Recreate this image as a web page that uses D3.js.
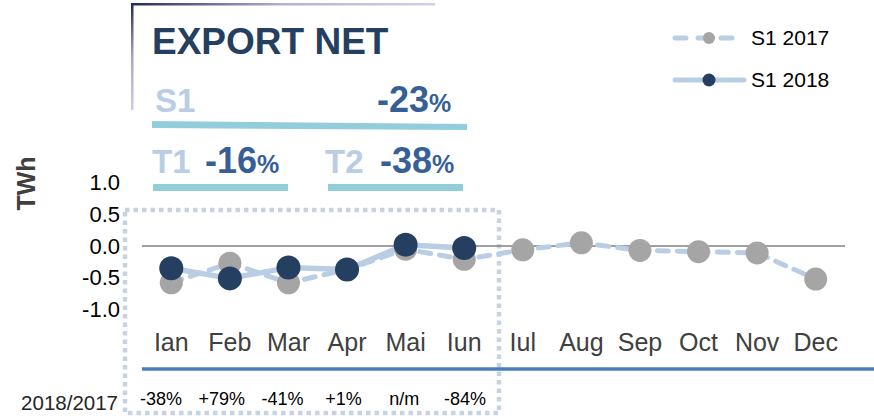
<!DOCTYPE html>
<html>
<head>
<meta charset="utf-8">
<script src="https://cdn.jsdelivr.net/npm/d3@7"></script>
<style>
  html, body { margin: 0; padding: 0; background: #fff; }
  svg { display: block; font-family: "Liberation Sans", Arial, sans-serif; }
</style>
</head>
<body>
<svg id="chart" width="874" height="419"></svg>
<script>
const months = ["Ian","Feb","Mar","Apr","Mai","Iun","Iul","Aug","Sep","Oct","Nov","Dec"];
const s2017 = [-0.58,-0.27,-0.58,-0.37,-0.05,-0.21,-0.06,0.05,-0.07,-0.09,-0.11,-0.52];
const s2018 = [-0.35,-0.51,-0.34,-0.37,0.02,-0.03];
const yTicks = [-1.0,-0.5,0.0,0.5,1.0];
const changeLabels = ["-38%","+79%","-41%","+1%","n/m","-84%"];
const seriesNames = ["S1 2017","S1 2018"];
const summaryLabels = ["S1","T1","T2"];
const summaryValues = ["-23","-16","-38"];
const chartTitle = "EXPORT NET";

const svg = d3.select("#chart");

const x = d3.scaleBand().domain(months).range([142, 845]);
const xc = d3.scaleBand().domain(months.slice(0, 6)).range([130.5, 495.5]);
const y = d3.scaleLinear().domain([-1, 1]).range([309.5, 182.5]);
const cx = m => x(m) + x.bandwidth() / 2;

const lightLine = "#b9cde5";
const grayDot = "#a5a5a5";
const darkDot = "#243f60";

// gradient defs for title frame
const defs = svg.append("defs");
const gH = defs.append("linearGradient").attr("id","gH").attr("x1","0").attr("x2","1").attr("y1","0").attr("y2","0");
gH.append("stop").attr("offset","0").attr("stop-color","#1f2a55");
gH.append("stop").attr("offset","0.5").attr("stop-color","#b5b0d4");
gH.append("stop").attr("offset","1").attr("stop-color","#d4d0e8");
const gV = defs.append("linearGradient").attr("id","gV").attr("x1","0").attr("x2","0").attr("y1","0").attr("y2","1");
gV.append("stop").attr("offset","0").attr("stop-color","#1f2a55");
gV.append("stop").attr("offset","0.5").attr("stop-color","#a9a4cc");
gV.append("stop").attr("offset","1").attr("stop-color","#cfcbe5");

svg.append("rect").attr("x",131).attr("y",3).attr("width",304).attr("height",2.5).attr("fill","url(#gH)");
svg.append("rect").attr("x",131).attr("y",3).attr("width",2.5).attr("height",107).attr("fill","url(#gV)");

// title
svg.append("text").attr("x",152).attr("y",54).attr("font-size",37).attr("font-weight","bold")
  .attr("fill","#243f60").text(chartTitle);

const pctColor = "#365f96";
const labColor = "#b9cde5";
const barColor = "#92cddc";

function summaryItem(lab, val, labX, valX, baseY) {
  svg.append("text").attr("x",labX).attr("y",baseY).attr("font-size",33).attr("font-weight","bold")
    .attr("fill",labColor).text(lab);
  const t = svg.append("text").attr("x",valX).attr("y",baseY).attr("font-weight","bold").attr("fill",pctColor);
  t.append("tspan").attr("font-size",36).text(val);
  t.append("tspan").attr("font-size",25).text("%");
}
// S1 row
summaryItem(summaryLabels[0], summaryValues[0], 155, 377, 112);
svg.append("path").attr("d","M152,121 L467,124 L467,130 L152,128 Z").attr("fill",barColor);
// T1 / T2 row
summaryItem(summaryLabels[1], summaryValues[1], 152, 205, 173);
summaryItem(summaryLabels[2], summaryValues[2], 325, 380, 173);
svg.append("rect").attr("x",153).attr("y",184).attr("width",135).attr("height",7).attr("fill",barColor);
svg.append("rect").attr("x",328).attr("y",184).attr("width",135).attr("height",7).attr("fill",barColor);

// dotted box
svg.append("rect").attr("x",125).attr("y",210).attr("width",374).attr("height",203)
  .attr("fill","none").attr("stroke","#c6d3e3").attr("stroke-width",4.5)
  .attr("stroke-dasharray","4.5 4");

// TWh label
svg.append("text").attr("transform","translate(35,183.5) rotate(-90)").attr("text-anchor","middle")
  .attr("font-size",25).attr("font-weight","bold").attr("fill","#404040").text("TWh");

// y axis
const yAxis = svg.append("g").attr("transform","translate(120,0)")
  .call(d3.axisLeft(y).tickValues(yTicks).tickSize(0).tickPadding(0).tickFormat(d => d.toFixed(1)));
yAxis.select(".domain").remove();
yAxis.selectAll("text").attr("font-size",22).attr("font-family","Liberation Sans, Arial, sans-serif").attr("fill","#000");

// zero line
svg.append("line").attr("x1",142).attr("x2",845).attr("y1",y(0)).attr("y2",y(0))
  .attr("stroke","#808080").attr("stroke-width",1.5);

// x axis labels
const xAxis = svg.append("g").attr("transform","translate(0,333)")
  .call(d3.axisBottom(x).tickSize(0).tickPadding(0));
xAxis.select(".domain").remove();
xAxis.selectAll("text").attr("font-size",25).attr("font-family","Liberation Sans, Arial, sans-serif")
  .attr("fill","#404040").attr("dy","0.71em");

// blue axis line
svg.append("line").attr("x1",142).attr("x2",874).attr("y1",369).attr("y2",369)
  .attr("stroke","#4a7ebb").attr("stroke-width",3.5);

// lines
const line = d3.line().x(d => cx(d.m)).y(d => y(d.v));
const d2017 = months.map((m,i) => ({m, v: s2017[i]}));
const d2018 = s2018.map((v,i) => ({m: months[i], v}));

svg.append("path").datum(d2017).attr("d", line).attr("fill","none")
  .attr("stroke",lightLine).attr("stroke-width",5).attr("stroke-linecap","round")
  .attr("stroke-dasharray","11 9");
svg.append("path").datum(d2018).attr("d", line).attr("fill","none")
  .attr("stroke",lightLine).attr("stroke-width",5.5).attr("stroke-linejoin","round");

svg.selectAll("circle.g17").data(d2017).join("circle").attr("class","g17")
  .attr("cx", d => cx(d.m)).attr("cy", d => y(d.v)).attr("r",11.5).attr("fill",grayDot);
svg.selectAll("circle.g18").data(d2018).join("circle").attr("class","g18")
  .attr("cx", d => cx(d.m)).attr("cy", d => y(d.v)).attr("r",12).attr("fill",darkDot);

// change row
svg.append("text").attr("x",118).attr("y",402.5).attr("dy","0.35em").attr("text-anchor","end")
  .attr("font-size",20.5).attr("fill","#262626").text("2018/2017");
svg.selectAll("text.chg").data(changeLabels).join("text").attr("class","chg")
  .attr("x",(d,i) => xc(months[i]) + xc.bandwidth() / 2).attr("y",399).attr("dy","0.35em")
  .attr("text-anchor","middle").attr("font-size",18).attr("fill","#000").text(d => d);

// legend
const lg = svg.append("g");
lg.append("line").attr("x1",675).attr("x2",734).attr("y1",38).attr("y2",38)
  .attr("stroke",lightLine).attr("stroke-width",5).attr("stroke-linecap","round").attr("stroke-dasharray","11 12");
lg.append("circle").attr("cx",709).attr("cy",38).attr("r",6).attr("fill",grayDot);
lg.append("line").attr("x1",675).attr("x2",744).attr("y1",80).attr("y2",80)
  .attr("stroke",lightLine).attr("stroke-width",5).attr("stroke-linecap","round");
lg.append("circle").attr("cx",709).attr("cy",80).attr("r",6.5).attr("fill",darkDot);
lg.selectAll("text").data(seriesNames).join("text")
  .attr("x",751).attr("y",(d,i) => i ? 80 : 38).attr("dy","0.35em")
  .attr("font-size",21).attr("fill","#000").text(d => d);
</script>
</body>
</html>
